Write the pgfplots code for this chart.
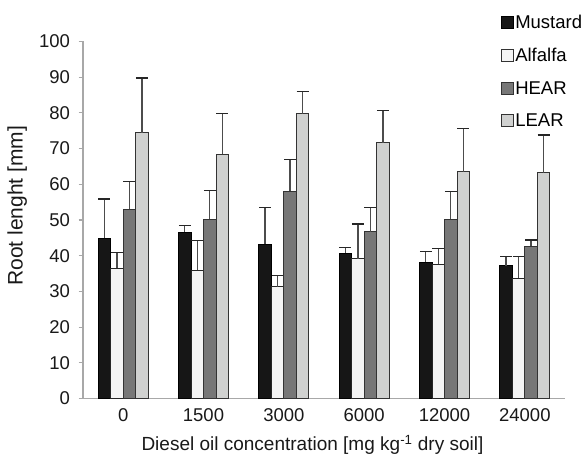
\documentclass[border=0pt]{standalone}
\usepackage{pgfplots}
\usepackage{pgfplotstable}
\pgfplotsset{compat=1.18}
\usepackage{fontspec}
\setmainfont{Liberation Sans}
\definecolor{cM}{HTML}{161616}
\definecolor{cA}{HTML}{F4F4F4}
\definecolor{cH}{HTML}{777777}
\definecolor{cL}{HTML}{D0D1D0}
\definecolor{axgray}{HTML}{A8A8A8}
\pgfplotsset{sqlegend/.style={legend image code/.code={\draw[##1,line width=0.9pt] (0pt,-6pt) rectangle (12pt,6pt);}}}
\pgfplotsset{errs/.style={error bars/y dir=plus, error bars/y explicit,
  error bars/error bar style={line width=1.2pt, color=black!70},
  error bars/error mark options={rotate=90, mark size=6pt, line width=1.2pt, color=black!85}}}
\pgfplotstableread{
x M Me A Ae H He L Le
0 44.9 11.0 36.5 4.5 53.0 7.7 74.5 15.3
1 46.6 1.8 35.9 8.4 50.2 8.0 68.4 11.5
2 43.2 10.4 31.3 3.1 58.1 8.9 79.8 6.1
3 40.7 1.5 39.2 9.7 46.7 6.9 71.7 8.9
4 38.2 3.0 37.6 4.5 50.2 7.8 63.5 12.2
5 37.2 2.5 33.7 6.0 42.7 1.7 63.2 10.6
}\data
\begin{document}
\begin{tikzpicture}
\path (0pt,0pt) rectangle (586pt,465pt);
\begin{axis}[
  at={(83pt,66.5pt)}, anchor=south west,
  width=482pt, height=357pt, scale only axis,
  xmin=-0.5, xmax=5.5, ymin=0, ymax=100,
  axis x line=bottom, axis y line=left,
  axis line style={-, draw=axgray, line width=1.3pt},
  tick align=outside,
  xtick={0,1,2,3,4,5},
  xticklabels={0,1500,3000,6000,12000,24000},
  major x tick style={draw=none},
  extra x ticks={0.5,1.5,2.5,3.5,4.5,5.5},
  extra x tick labels={},
  extra x tick style={major tick length=5pt, tick style={draw=axgray, line width=1.1pt}},
  ytick={0,10,...,100},
  major y tick style={draw=axgray, line width=1.1pt},
  major tick length=4.5pt,
  /pgf/number format/assume math mode=true,
  tick label style={font=\fontsize{18.5}{22}\selectfont, text=black!90},
  yticklabel style={xshift=-5pt},
  xticklabel style={yshift=-2pt},
  xlabel={Diesel oil concentration [mg kg\textsuperscript{-1} dry soil]},
  xlabel style={at={(axis description cs:0.476,-0.13)}, anchor=center, font=\fontsize{19}{22}\selectfont, text=black!90},
  ylabel={Root lenght [mm]},
  ylabel style={at={(axis description cs:-0.1365,0.54)}, anchor=center, font=\fontsize{21}{24}\selectfont, text=black!90},
  ybar=0pt, bar width=12.5pt,
  clip=false,
  legend style={draw=none, fill=none, at={(axis description cs:0.8666,1.0734)}, anchor=north west,
    font=\fontsize{18.5}{22}\selectfont, row sep=18pt, inner sep=0pt,
    nodes={inner xsep=1.5pt, inner ysep=0pt}},
  legend cell align=left,
]
\addplot[forget plot, errs, draw=black, line width=0.9pt, fill=cM, bar shift=-18.75pt] table[x=x, y=M, y error=Me]{\data};
\addplot[forget plot, errs, draw=black!85, line width=0.9pt, fill=cA, bar shift=-6.25pt] table[x=x, y=A, y error=Ae]{\data};
\addplot[forget plot, errs, draw=black!80, line width=0.9pt, fill=cH, bar shift=6.25pt] table[x=x, y=H, y error=He]{\data};
\addplot[forget plot, errs, draw=black!80, line width=0.9pt, fill=cL, bar shift=18.75pt] table[x=x, y=L, y error=Le]{\data};
\addlegendimage{sqlegend, fill=cM, draw=black}
\addlegendentry{Mustard}
\addlegendimage{sqlegend, fill=cA, draw=black!80}
\addlegendentry{Alfalfa}
\addlegendimage{sqlegend, fill=cH, draw=black!80}
\addlegendentry{HEAR}
\addlegendimage{sqlegend, fill=cL, draw=black!80}
\addlegendentry{LEAR}
\end{axis}
\end{tikzpicture}
\end{document}
